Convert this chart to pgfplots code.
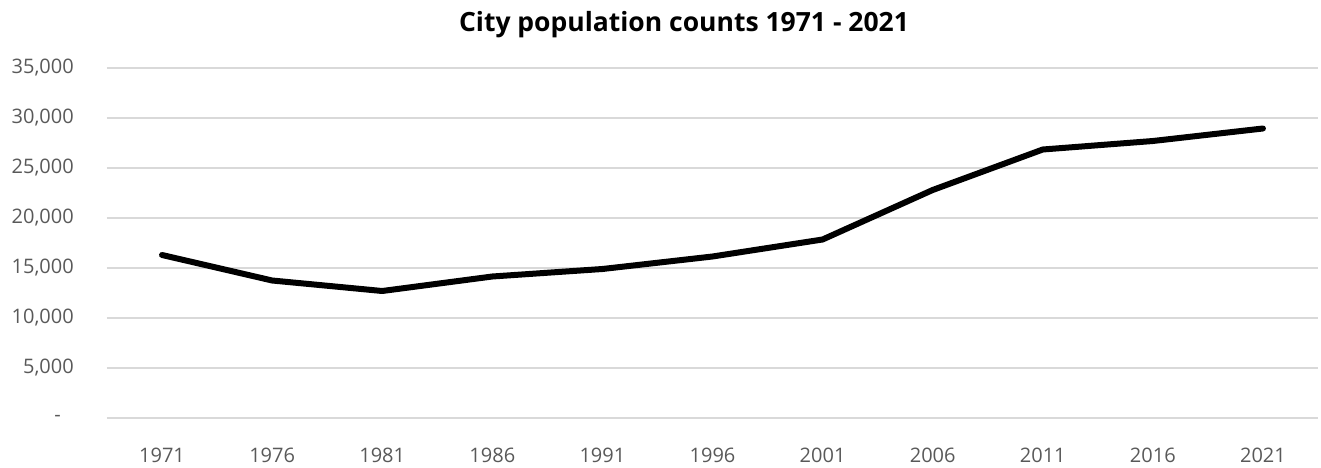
\documentclass[border=0pt]{standalone}
\usepackage{fontspec}
\setmainfont{Open Sans}
\usepackage{pgfplots}
\pgfplotsset{compat=1.18}
\definecolor{gridgray}{HTML}{D9D9D9}
\definecolor{labelgray}{HTML}{595959}
\begin{document}
\begin{tikzpicture}
\begin{axis}[
  at={(0,0)}, anchor=south west,
  scale only axis,
  width=1211bp, height=350bp,
  xmin=-0.5, xmax=10.5,
  ymin=0, ymax=35000,
  scaled y ticks=false,
  xtick={0,...,10},
  xticklabels={1971,1976,1981,1986,1991,1996,2001,2006,2011,2016,2021},
  ytick={0,5000,10000,15000,20000,25000,30000,35000},
  yticklabels={{-\hspace*{13bp}\mbox{}},{5,000},{10,000},{15,000},{20,000},{25,000},{30,000},{35,000}},
  axis line style={draw=none},
  major tick length=0pt,
  ymajorgrids,
  major grid style={draw=gridgray, line width=1.4bp},
  tick label style={font=\fontsize{20bp}{24bp}\selectfont, text=labelgray, inner sep=0pt},
  yticklabel style={anchor=east, xshift=-33bp},
  xticklabel style={anchor=base, yshift=-44bp},
  clip=false,
]
\addplot[black, line width=6bp, line cap=round, line join=round] coordinates {
  (0,16300) (1,13750) (2,12700) (3,14150) (4,14900) (5,16150)
  (6,17850) (7,22800) (8,26850) (9,27700) (10,28950)
};
\end{axis}
\node[anchor=base, font=\fontsize{26.5bp}{30bp}\selectfont\bfseries] at (577bp,386bp) {City population counts 1971 - 2021};
\pgfresetboundingbox
\useasboundingbox (-107bp,-50bp) rectangle (1214bp,418bp);
\end{tikzpicture}
\end{document}
